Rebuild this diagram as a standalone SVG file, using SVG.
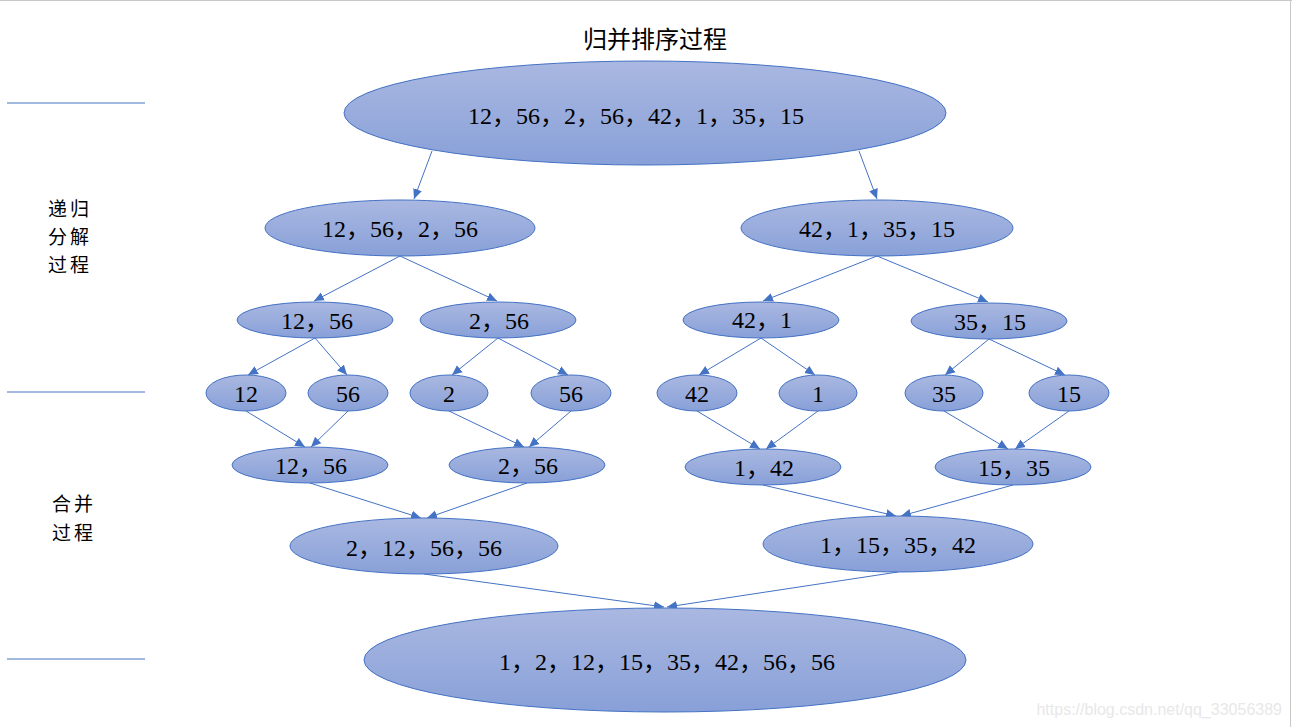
<svg xmlns="http://www.w3.org/2000/svg" width="1292" height="727" viewBox="0 0 1292 727">
<style>
.n ellipse{fill:url(#g);stroke:#4472c4;stroke-width:1}
.n text{font-family:"Liberation Serif","Noto Sans CJK SC",serif;font-size:24px;fill:#000;text-anchor:middle}
.lab{font-family:"Noto Sans CJK SC","Liberation Sans",sans-serif;font-size:19px;letter-spacing:3px;fill:#000}
.sep{stroke:#4472c4;stroke-width:1}
#edges line{stroke:#4472c4;stroke-width:1;marker-end:url(#ah)}
</style>
<defs>
<linearGradient id="g" x1="0" y1="0" x2="0" y2="1">
<stop offset="0" stop-color="#aab8e1"/>
<stop offset="1" stop-color="#88a0d8"/>
</linearGradient>
<marker id="ah" markerUnits="userSpaceOnUse" markerWidth="10" markerHeight="10" viewBox="0 0 10 10" refX="10" refY="5" orient="auto">
<path d="M0,0.5 L10,5 L0,9.5 z" fill="#4472c4"/>
</marker>
</defs>
<rect x="0" y="0" width="1292" height="727" fill="#fff"/>
<line x1="0" y1="0.5" x2="1292" y2="0.5" stroke="#c8c8c8"/>
<line x1="1290.5" y1="0" x2="1290.5" y2="727" stroke="#c8c8c8"/>

<g id="labels">
<text x="655" y="48" text-anchor="middle" style="font-family:'Noto Sans CJK SC','Liberation Sans',sans-serif;font-size:24px;fill:#000">归并排序过程</text>
<line class="sep" x1="7" y1="103" x2="145" y2="103"/>
<line class="sep" x1="7" y1="392" x2="145" y2="392"/>
<line class="sep" x1="7" y1="659" x2="145" y2="659"/>
<text class="lab" x="48" y="216">递归</text>
<text class="lab" x="48" y="244">分解</text>
<text class="lab" x="48" y="272">过程</text>
<text class="lab" x="52" y="511">合并</text>
<text class="lab" x="52" y="540">过程</text>
<text x="1282" y="715" text-anchor="end" style="font-family:'Liberation Sans',sans-serif;font-size:16px;fill:#e8e8e8">https://blog.csdn.net/qq_33056389</text>
</g>

<g id="edges">
<line x1="432" y1="151" x2="414" y2="199"/>
<line x1="859" y1="151" x2="877" y2="199"/>
<line x1="400" y1="256" x2="314" y2="301"/>
<line x1="400" y1="256" x2="497" y2="301"/>
<line x1="877" y1="256" x2="763" y2="301"/>
<line x1="877" y1="256" x2="988" y2="302"/>
<line x1="315" y1="338" x2="248" y2="375"/>
<line x1="315" y1="338" x2="347" y2="375"/>
<line x1="498" y1="338" x2="452" y2="375"/>
<line x1="498" y1="338" x2="568" y2="375"/>
<line x1="761" y1="338" x2="699" y2="375"/>
<line x1="761" y1="338" x2="815" y2="375"/>
<line x1="989" y1="339" x2="945" y2="375"/>
<line x1="989" y1="339" x2="1065" y2="375"/>
<line x1="246" y1="411" x2="305" y2="447"/>
<line x1="348" y1="411" x2="311" y2="447"/>
<line x1="449" y1="411" x2="524" y2="447"/>
<line x1="571" y1="411" x2="529" y2="447"/>
<line x1="697" y1="411" x2="760" y2="449"/>
<line x1="818" y1="411" x2="766" y2="449"/>
<line x1="944" y1="411" x2="1008" y2="449"/>
<line x1="1069" y1="411" x2="1015" y2="449"/>
<line x1="310" y1="483" x2="421" y2="518"/>
<line x1="527" y1="483" x2="427" y2="518"/>
<line x1="763" y1="485" x2="896" y2="516"/>
<line x1="1013" y1="485" x2="901" y2="516"/>
<line x1="424" y1="574" x2="664" y2="607"/>
<line x1="898" y1="572" x2="667" y2="607"/>
</g>

<g id="n0" class="n"><ellipse cx="645" cy="113" rx="301" ry="52"/><text x="636" y="124">12，56，2，56，42，1，35，15</text></g>
<g id="n1" class="n"><ellipse cx="400" cy="228" rx="135" ry="28"/><text x="400" y="237">12，56，2，56</text></g>
<g id="n2" class="n"><ellipse cx="877" cy="228" rx="136" ry="28"/><text x="877" y="237">42，1，35，15</text></g>
<g id="n3" class="n"><ellipse cx="315" cy="320" rx="78" ry="18"/><text x="317" y="329">12，56</text></g>
<g id="n4" class="n"><ellipse cx="498" cy="320" rx="78" ry="18"/><text x="499" y="329">2，56</text></g>
<g id="n5" class="n"><ellipse cx="761" cy="320" rx="78" ry="18"/><text x="762" y="328">42，1</text></g>
<g id="n6" class="n"><ellipse cx="989" cy="321" rx="78" ry="18"/><text x="990" y="330">35，15</text></g>
<g id="n7" class="n"><ellipse cx="246" cy="393" rx="40" ry="18"/><text x="246" y="402">12</text></g>
<g id="n8" class="n"><ellipse cx="348" cy="393" rx="40" ry="18"/><text x="348" y="402">56</text></g>
<g id="n9" class="n"><ellipse cx="449" cy="393" rx="39" ry="18"/><text x="449" y="402">2</text></g>
<g id="n10" class="n"><ellipse cx="571" cy="393" rx="40" ry="18"/><text x="571" y="402">56</text></g>
<g id="n11" class="n"><ellipse cx="697" cy="393" rx="40" ry="18"/><text x="697" y="402">42</text></g>
<g id="n12" class="n"><ellipse cx="818" cy="393" rx="39" ry="18"/><text x="818" y="402">1</text></g>
<g id="n13" class="n"><ellipse cx="944" cy="393" rx="39" ry="18"/><text x="944" y="402">35</text></g>
<g id="n14" class="n"><ellipse cx="1069" cy="393" rx="40" ry="18"/><text x="1069" y="402">15</text></g>
<g id="n15" class="n"><ellipse cx="310" cy="465" rx="78" ry="18"/><text x="311" y="474">12，56</text></g>
<g id="n16" class="n"><ellipse cx="527" cy="465" rx="78" ry="18"/><text x="528" y="474">2，56</text></g>
<g id="n17" class="n"><ellipse cx="763" cy="467" rx="78" ry="18"/><text x="764" y="476">1，42</text></g>
<g id="n18" class="n"><ellipse cx="1013" cy="467" rx="78" ry="18"/><text x="1014" y="476">15，35</text></g>
<g id="n19" class="n"><ellipse cx="424" cy="546" rx="134" ry="28"/><text x="424" y="556">2，12，56，56</text></g>
<g id="n20" class="n"><ellipse cx="898" cy="544" rx="135" ry="28"/><text x="898" y="553">1，15，35，42</text></g>
<g id="n21" class="n"><ellipse cx="665" cy="660" rx="301" ry="52"/><text x="667" y="670">1，2，12，15，35，42，56，56</text></g>
</svg>
